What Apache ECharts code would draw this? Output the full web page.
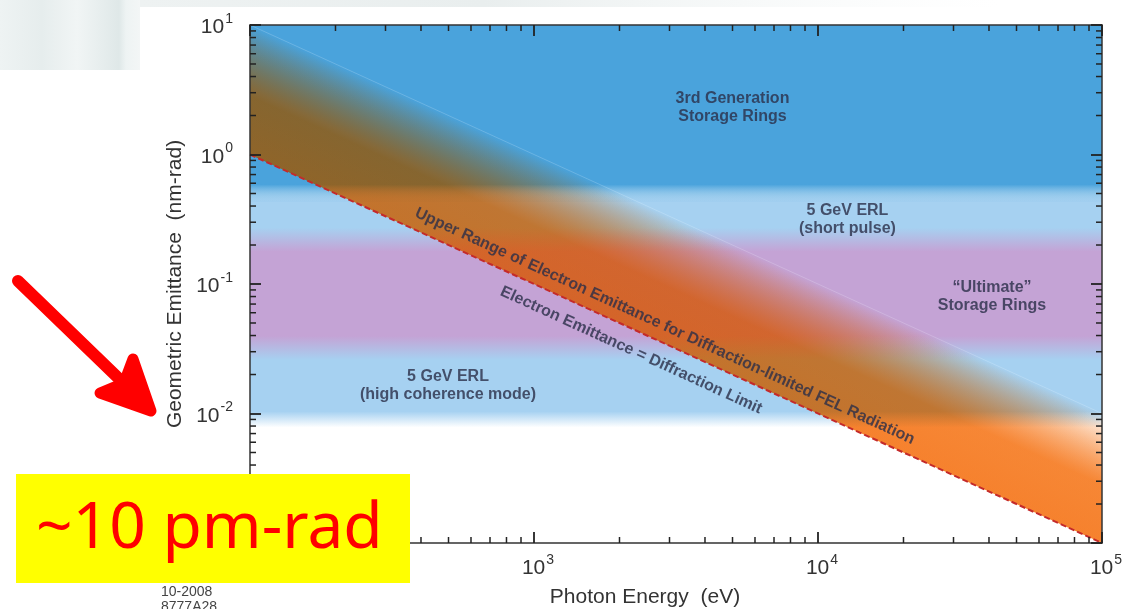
<!DOCTYPE html>
<html>
<head>
<meta charset="utf-8">
<script src="https://cdn.jsdelivr.net/npm/echarts@6/dist/echarts.min.js"></script>
<style>
  html, body { margin: 0; padding: 0; background: #ffffff; }
  #chart { width: 1125px; height: 609px; }
</style>
</head>
<body>
<div id="chart"></div>
<script>
// Photon energy range (eV) and the two emittance limits at its ends (nm-rad)
const photonEnergy = [100, 100000];
const diffractionLimit = [1, 0.001];      // electron emittance = λ/4π
const felUpperRange = [10, 0.01];         // upper range for diffraction-limited FEL

// Axis decades
const xTickExponents = [2, 3, 4, 5];
const yTickExponents = [-3, -2, -1, 0, 1];

// Light-source emittance regions (nm-rad)
const sourceNames = ['3rd Generation\nStorage Rings', '5 GeV ERL\n(short pulse)', '\u201cUltimate\u201d\nStorage Rings', '5 GeV ERL\n(high coherence mode)'];
const sourceLow  = [0.5,  0.22, 0.032, 0.009];
const sourceHigh = [10,   0.5,  0.22,  0.032];

// Where each region name sits: [photon energy (eV), emittance (nm-rad)]
const sourceLabelAt = [[5000, 2.3], [12700, 0.315], [41000, 0.080], [498, 0.0163]];

// Labels that run along the two limit lines
const lineNames = ['Upper Range of Electron Emittance for Diffraction-limited FEL Radiation', 'Electron Emittance = Diffraction Limit'];
const lineLabelAt = [[2890, 0.0472], [2198, 0.0308]];

const xMin = Math.pow(10, xTickExponents[0]);
const xMax = Math.pow(10, xTickExponents[xTickExponents.length - 1]);
const yMin = Math.pow(10, yTickExponents[0]);
const yMax = Math.pow(10, yTickExponents[yTickExponents.length - 1]);

const chart = echarts.init(document.getElementById('chart'), null, { renderer: 'canvas' });

const tickFont = 'Liberation Sans, Arial, Helvetica, sans-serif';
function powerLabel(extra) {
  return Object.assign({
    formatter: function (v) {
      const e = Math.round(Math.log10(v));
      return '{b|10}{e|' + e + '}';
    },
    rich: {
      b: { fontSize: 21, fontFamily: tickFont, color: '#333', lineHeight: 26, verticalAlign: 'bottom' },
      e: { fontSize: 14, fontFamily: tickFont, color: '#333', lineHeight: 26, verticalAlign: 'top', padding: [0, 0, 0, 1] }
    }
  }, extra);
}

// Region colours and soft edge half-widths (px)
const regionColor = ['74,163,220', '166,209,241', '196,163,213', '166,209,241'];
const regionFade = [9, 8, 12, 9];

function regionRect(params, api) {
  const i = api.value(3);
  const hi = api.value(1), lo = api.value(2);
  const pTop = api.coord([xMin, hi]);
  const pBot = api.coord([xMax, lo]);
  const f = regionFade[i];
  const fTop = hi >= yMax ? 0 : f;
  const fBot = lo <= yMin ? 0 : f;
  const y0 = pTop[1] - fTop, y1 = pBot[1] + fBot;
  const h = y1 - y0;
  const c = regionColor[i];
  return {
    type: 'rect',
    shape: { x: pTop[0], y: y0, width: pBot[0] - pTop[0], height: h },
    style: {
      fill: new echarts.graphic.LinearGradient(0, 0, 0, 1, [
        { offset: 0, color: 'rgba(' + c + ',' + (fTop ? 0 : 1) + ')' },
        { offset: 2 * fTop / h, color: 'rgba(' + c + ',1)' },
        { offset: 1 - 2 * fBot / h, color: 'rgba(' + c + ',1)' },
        { offset: 1, color: 'rgba(' + c + ',' + (fBot ? 0 : 1) + ')' }
      ])
    }
  };
}

// Orange FEL wedge between the diffraction limit and its upper range
function felWedge(params, api) {
  const A = api.coord([photonEnergy[0], diffractionLimit[0]]);
  const B = api.coord([photonEnergy[1], diffractionLimit[1]]);
  const C = api.coord([photonEnergy[1], felUpperRange[1]]);
  const D = api.coord([photonEnergy[0], felUpperRange[0]]);
  const ux = B[0] - A[0], uy = B[1] - A[1];
  const len = Math.hypot(ux, uy);
  const nx = uy / len, ny = -ux / len;
  const dist = (D[0] - A[0]) * nx + (D[1] - A[1]) * ny;
  const ex = A[0] + nx * dist, ey = A[1] + ny * dist;
  const pts = [A, B, C, D];
  return {
    type: 'group',
    children: [
      {
        type: 'polygon', name: 'felMultiply',
        shape: { points: pts },
        style: {
          blend: 'multiply',
          fill: new echarts.graphic.LinearGradient(A[0], A[1], ex, ey, [
            { offset: 0, color: 'rgba(250,138,50,1)' },
            { offset: 0.45, color: 'rgba(250,138,50,0.95)' },
            { offset: 0.8, color: 'rgba(250,138,50,0.35)' },
            { offset: 1, color: 'rgba(250,138,50,0)' }
          ], true)
        }
      },
      {
        type: 'polygon', name: 'felGlow',
        shape: { points: pts },
        style: {
          fill: new echarts.graphic.LinearGradient(A[0], A[1], ex, ey, [
            { offset: 0, color: 'rgba(240,118,40,0.42)' },
            { offset: 0.5, color: 'rgba(240,118,40,0.36)' },
            { offset: 1, color: 'rgba(240,118,40,0)' }
          ], true)
        }
      }
    ]
  };
}

// Minor ticks (2..9 × 10^n) on all four sides of the frame
const minorTicks = [];
for (let k = 0; k < xTickExponents.length - 1; k++) {
  for (let m = 2; m <= 9; m++) minorTicks.push([m * Math.pow(10, xTickExponents[k]), yMin, 0]);
}
for (let k = 0; k < yTickExponents.length - 1; k++) {
  for (let m = 2; m <= 9; m++) minorTicks.push([xMin, m * Math.pow(10, yTickExponents[k]), 1]);
}
function minorTick(params, api) {
  const L = 6;
  const st = { stroke: '#222', lineWidth: 1.5 };
  if (api.value(2) === 0) {
    const b = api.coord([api.value(0), yMin]);
    const t = api.coord([api.value(0), yMax]);
    return { type: 'group', children: [
      { type: 'line', shape: { x1: b[0], y1: b[1], x2: b[0], y2: b[1] - L }, style: st },
      { type: 'line', shape: { x1: t[0], y1: t[1], x2: t[0], y2: t[1] + L }, style: st }
    ] };
  }
  const l = api.coord([xMin, api.value(1)]);
  const r = api.coord([xMax, api.value(1)]);
  return { type: 'group', children: [
    { type: 'line', shape: { x1: l[0], y1: l[1], x2: l[0] + L, y2: l[1] }, style: st },
    { type: 'line', shape: { x1: r[0], y1: r[1], x2: r[0] - L, y2: r[1] }, style: st }
  ] };
}

const axisLineStyle = { lineStyle: { color: '#333', width: 1.5 } };
const majorTick = { show: true, inside: true, length: 11, lineStyle: { color: '#222', width: 1.8 } };

const labelFont = 'Liberation Sans, Arial, Helvetica, sans-serif';
const regionLabelStyle = {
  show: true, position: 'inside', color: '#2b2e48', fontFamily: labelFont,
  fontWeight: 'bold', fontSize: 16, lineHeight: 18, align: 'center', verticalAlign: 'middle',
  formatter: function (p) { return p.name; }
};

const option = {
  animation: false,
  backgroundColor: '#ffffff',
  grid: { left: 250, right: 23, top: 25, bottom: 66, containLabel: false, outerBoundsMode: 'none' },
  xAxis: [
    {
      type: 'log', logBase: 10, min: xMin, max: xMax, position: 'bottom', z: 10,
      axisLine: axisLineStyle, axisTick: majorTick, splitLine: { show: false },
      axisLabel: powerLabel({ margin: 10, padding: [0, 0, 0, 8] }),
      name: 'Photon Energy  (eV)', nameLocation: 'middle', nameGap: 44,
      nameTextStyle: { fontSize: 21, fontFamily: tickFont, color: '#333', padding: [0, 62, 0, 0] }
    },
    {
      type: 'log', logBase: 10, min: xMin, max: xMax, position: 'top', z: 10,
      axisLine: axisLineStyle, axisTick: majorTick, splitLine: { show: false }, axisLabel: { show: false }
    }
  ],
  yAxis: [
    {
      type: 'log', logBase: 10, min: yMin, max: yMax, position: 'left', z: 10,
      axisLine: axisLineStyle, axisTick: majorTick, splitLine: { show: false },
      axisLabel: powerLabel({ margin: 17 }),
      name: 'Geometric Emittance  (nm-rad)', nameLocation: 'middle', nameGap: 64, nameRotate: 90,
      nameTextStyle: { fontSize: 21, fontFamily: tickFont, color: '#333' }
    },
    {
      type: 'log', logBase: 10, min: yMin, max: yMax, position: 'right', z: 10,
      axisLine: axisLineStyle, axisTick: majorTick, splitLine: { show: false }, axisLabel: { show: false }
    }
  ],
  series: [
    {
      // light-blue ERL span underneath everything
      type: 'custom', name: 'regions-erl', clip: true, z: 1,
      renderItem: regionRect,
      data: [[xMin, Math.max(sourceHigh[1], sourceHigh[3]), Math.min(sourceLow[1], sourceLow[3]), 1]]
    },
    {
      type: 'custom', name: 'regions', clip: true, z: 2,
      renderItem: regionRect,
      data: [[xMin, sourceHigh[0], sourceLow[0], 0], [xMin, sourceHigh[2], sourceLow[2], 2]]
    },
    {
      type: 'custom', name: 'FEL', clip: true, z: 3,
      renderItem: felWedge,
      data: [[photonEnergy[0], diffractionLimit[0]]]
    },
    {
      type: 'line', name: 'upper range', z: 4, symbol: 'none', silent: true,
      lineStyle: { color: 'rgba(255,255,255,0.18)', width: 1 },
      data: photonEnergy.map(function (e, i) { return [e, felUpperRange[i]]; })
    },
    {
      type: 'line', name: 'diffraction limit', z: 5, symbol: 'none', silent: true,
      lineStyle: { color: '#c42a2a', width: 2, type: [6, 3] },
      data: photonEnergy.map(function (e, i) { return [e, diffractionLimit[i]]; })
    },
    {
      type: 'scatter', name: 'region labels', z: 6, symbolSize: 0, silent: true,
      label: regionLabelStyle,
      data: sourceNames.map(function (n, i) { return { name: n, value: sourceLabelAt[i] }; })
    },
    {
      type: 'scatter', name: 'line labels', z: 6, symbolSize: 0, silent: true,
      label: Object.assign({}, regionLabelStyle, { rotate: -24.6, fontSize: 16 }),
      data: lineNames.map(function (n, i) { return { name: n, value: lineLabelAt[i] }; })
    },
    {
      type: 'custom', name: 'minor ticks', clip: false, z: 11,
      renderItem: minorTick, data: minorTicks
    }
  ],
  graphic: [
    {
      // faded slide backdrop, top-left
      type: 'rect', z: 90, shape: { x: 0, y: 0, width: 140, height: 70 },
      style: {
        fill: new echarts.graphic.LinearGradient(0, 0, 1, 0, [
          { offset: 0, color: '#eef3f3' },
          { offset: 0.3, color: '#e6eded' },
          { offset: 0.55, color: '#f1f5f5' },
          { offset: 0.85, color: '#dfe8e8' },
          { offset: 0.9, color: '#eef3f3' },
          { offset: 1, color: '#f3f6f6' }
        ])
      }
    },
    {
      type: 'rect', z: 90, shape: { x: 140, y: 0, width: 860, height: 7 },
      style: {
        fill: new echarts.graphic.LinearGradient(0, 0, 1, 0, [
          { offset: 0, color: '#eef2f2' },
          { offset: 0.4, color: '#e9eeee' },
          { offset: 1, color: 'rgba(245,248,248,0)' }
        ])
      }
    },
    {
      // red arrow pointing at the 10^-2 level
      type: 'group', z: 100,
      children: [
        {
          type: 'line', z: 100,
          shape: { x1: 18, y1: 281, x2: 140, y2: 399 },
          style: { stroke: '#ff0000', lineWidth: 12, lineCap: 'round' }
        },
        {
          type: 'polygon', z: 100,
          shape: { points: [[100, 393], [151, 411], [133, 359], [124, 383]] },
          style: { fill: '#ff0000', stroke: '#ff0000', lineWidth: 11, lineJoin: 'round' }
        }
      ]
    },
    {
      type: 'rect', z: 100, shape: { x: 16, y: 474, width: 394, height: 109 },
      style: { fill: '#ffff00' }
    },
    {
      type: 'text', z: 101, left: 36, top: 498,
      style: { text: '~10 pm-rad', fill: '#ff0000', font: '64px "Noto Sans", "Open Sans", sans-serif' }
    },
    {
      type: 'text', z: 100, left: 161, top: 585,
      style: { text: '10-2008\n8777A28', fill: '#444', font: '14px "Liberation Sans", Arial, sans-serif', lineHeight: 15 }
    }
  ]
};

chart.setOption(option);

// Multiply the FEL wedge into the bands beneath it
(function applyBlend() {
  const zr = chart.getZr();
  let found = false;
  zr.storage.getDisplayList(true).forEach(function (el) {
    if (el.name === 'felMultiply') {
      el.style.blend = 'multiply';
      el.markRedraw();
      found = true;
    }
  });
  if (found) zr.refreshImmediately();
})();
</script>
</body>
</html>
